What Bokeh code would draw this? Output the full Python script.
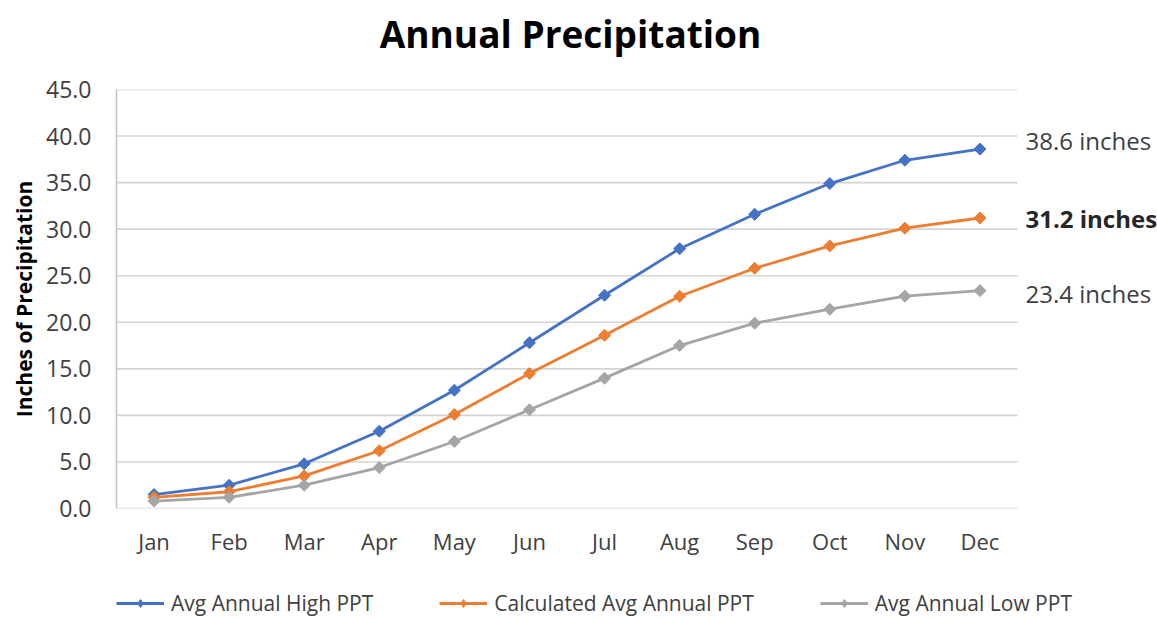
import math
from bokeh.plotting import figure
from bokeh.layouts import column
from bokeh.models import (FixedTicker, NumeralTickFormatter, Legend, LegendItem,
                          Range1d, ColumnDataSource)
from bokeh.core.properties import value
from bokeh.embed import file_html
from bokeh.resources import INLINE

title_text = "Annual Precipitation"
months = ["Jan", "Feb", "Mar", "Apr", "May", "Jun", "Jul", "Aug", "Sep", "Oct", "Nov", "Dec"]
high_ppt = [1.5, 2.5, 4.8, 8.3, 12.7, 17.8, 22.9, 27.9, 31.6, 34.9, 37.4, 38.6]
calc_ppt = [1.2, 1.8, 3.5, 6.2, 10.1, 14.5, 18.6, 22.8, 25.8, 28.2, 30.1, 31.2]
low_ppt = [0.8, 1.2, 2.5, 4.4, 7.2, 10.6, 14.0, 17.5, 19.9, 21.4, 22.8, 23.4]
series_names = ["Avg Annual High PPT", "Calculated Avg Annual PPT", "Avg Annual Low PPT"]
end_labels = ["38.6 inches", "31.2 inches", "23.4 inches"]
y_ticks = [0, 5, 10, 15, 20, 25, 30, 35, 40, 45]

colors = ["#4472C4", "#ED7D31", "#A5A5A5"]
FONT = "Open Sans"

W = 1157
TITLE_H = 60
MAIN_H = 523
LEG_H = 34
LEFT = 116
n = len(months)
cat_w = 901 / n                      # pixel width of one month slot
x_pos = [i + 0.5 for i in range(n)]  # centre of each month slot
x_end = (W - LEFT) / cat_w           # frame runs on to the right edge to hold the end labels

# ---- title strip ----
t = figure(width=W, height=TITLE_H, title=None, x_range=Range1d(0, W - LEFT),
           y_range=Range1d(0, TITLE_H), x_axis_type=None, y_axis_type=None,
           output_backend="svg", toolbar_location=None,
           min_border_left=0, min_border_right=0, min_border_top=0, min_border_bottom=0)
t.grid.grid_line_color = None
t.outline_line_color = None
t.text(x=[570 - LEFT], y=[TITLE_H - 33], text=[title_text],
       text_font=value(FONT), text_font_size="37px", text_font_style="bold",
       text_color="#000000", text_align="center", text_baseline="middle")

# ---- main chart ----
p = figure(width=W, height=MAIN_H, title=None, x_range=Range1d(0, x_end), y_range=Range1d(0, 45),
           output_backend="svg", toolbar_location=None,
           min_border_left=LEFT, min_border_right=0, min_border_top=89 - TITLE_H,
           min_border_bottom=TITLE_H + MAIN_H - 508)
p.outline_line_color = None

# horizontal gridlines (only across the month area)
p.segment(x0=[0] * len(y_ticks), x1=[n] * len(y_ticks), y0=y_ticks, y1=y_ticks,
          line_color="#D4D4D4", line_width=1.6)

for name, vals, c in zip(series_names, [high_ppt, calc_ppt, low_ppt], colors):
    p.line(x_pos, vals, line_color=c, line_width=2.8)
    p.scatter(x_pos, vals, marker="square", angle=math.pi / 4, size=8.5,
              fill_color=c, line_color=c)

# end-of-year labels
last_vals = [high_ppt[-1], calc_ppt[-1], low_ppt[-1]]
offs = [-9, 1, 3]
for lab, v, o, bold in zip(end_labels, last_vals, offs, [False, True, False]):
    p.text(x=[n], y=[v], text=[lab], x_offset=8, y_offset=o,
           text_font=value(FONT), text_font_size="24px",
           text_font_style="bold" if bold else "normal",
           text_color="#262626" if bold else "#404040",
           text_baseline="middle", text_align="left")

p.yaxis.ticker = FixedTicker(ticks=y_ticks)
p.yaxis.formatter = NumeralTickFormatter(format="0.0")
p.yaxis.axis_label = "Inches of Precipitation"
p.yaxis.axis_label_text_font = FONT
p.yaxis.axis_label_text_font_size = "21px"
p.yaxis.axis_label_text_font_style = "bold"
p.yaxis.axis_label_text_color = "#000000"
p.yaxis.axis_label_standoff = 5
p.yaxis.axis_line_color = "#BFBFBF"
p.yaxis.axis_line_width = 1.5
p.yaxis.major_tick_line_color = None
p.yaxis.minor_tick_line_color = None
p.yaxis.major_label_standoff = 19
p.yaxis.major_label_text_font_size = "23px"

p.xaxis.ticker = FixedTicker(ticks=x_pos)
p.xaxis.major_label_overrides = {x: m for x, m in zip(x_pos, months)}
p.xaxis.axis_line_color = None
p.xaxis.major_tick_line_color = None
p.xaxis.minor_tick_line_color = None
p.xaxis.major_label_standoff = 11
p.xaxis.major_label_text_font_size = "22px"

for ax in (p.xaxis, p.yaxis):
    ax.major_label_text_font = FONT
    ax.major_label_text_color = "#404040"

p.xgrid.grid_line_color = None
p.ygrid.grid_line_color = None

# ---- legend strip ----
q = figure(width=W, height=LEG_H, title=None, x_range=Range1d(0, 1), y_range=Range1d(0, 1),
           x_axis_type=None, y_axis_type=None,
           output_backend="svg", toolbar_location=None,
           min_border_left=0, min_border_right=0, min_border_top=0, min_border_bottom=0)
q.grid.grid_line_color = None
q.outline_line_color = None
items = []
for name, c in zip(series_names, colors):
    src = ColumnDataSource(data=dict(x=[-5], y=[-5]))  # outside the strip: only the legend shows
    l1 = q.line("x", "y", source=src, line_color=c, line_width=2.8)
    l2 = q.scatter("x", "y", source=src, marker="diamond", size=11,
                   fill_color=c, line_color=c)
    items.append(LegendItem(label=name, renderers=[l1, l2]))

legend = Legend(items=items, orientation="horizontal", location=(0, 0),
                label_text_font=FONT, label_text_font_size="21px", label_text_color="#404040",
                glyph_width=48, glyph_height=20, label_standoff=7, spacing=66,
                border_line_color=None, background_fill_alpha=0, margin=0, padding=0)
q.add_layout(legend, "center")

layout = column(t, p, q, spacing=0)
open("out.html", "w").write(file_html(layout, INLINE))
